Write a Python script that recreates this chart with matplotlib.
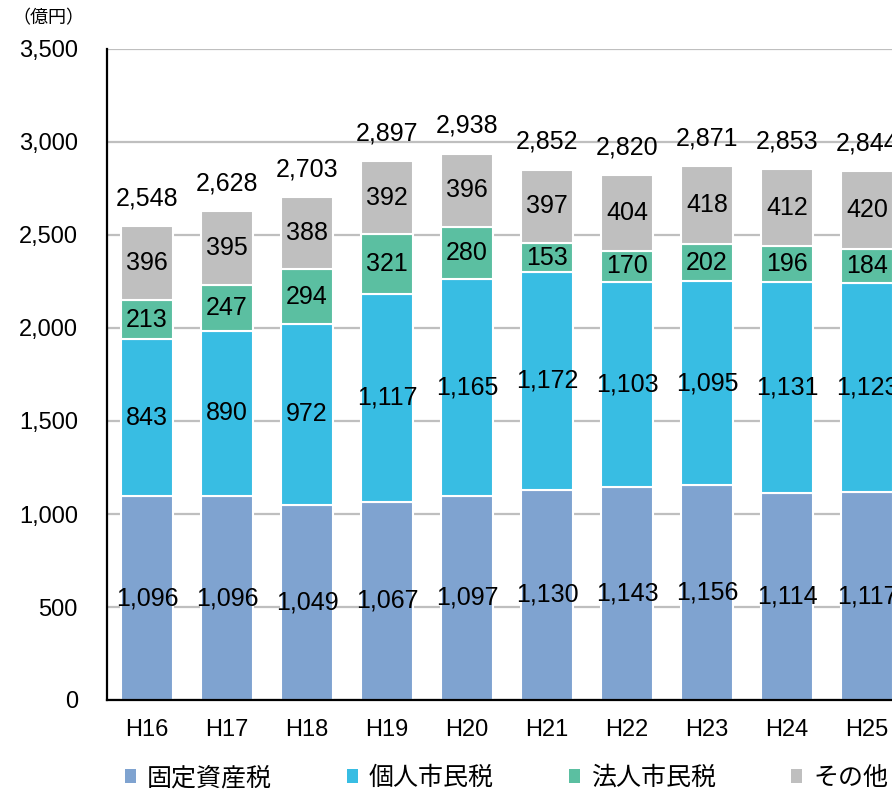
import matplotlib
matplotlib.use("Agg")
import matplotlib.pyplot as plt
import numpy as np

plt.rcParams['font.family'] = ['Liberation Sans', 'Noto Sans CJK JP', 'DejaVu Sans']

years = ['H16', 'H17', 'H18', 'H19', 'H20', 'H21', 'H22', 'H23', 'H24', 'H25']
kotei = [1096, 1096, 1049, 1067, 1097, 1130, 1143, 1156, 1114, 1117]
kojin = [843, 890, 972, 1117, 1165, 1172, 1103, 1095, 1131, 1123]
hojin = [213, 247, 294, 321, 280, 153, 170, 202, 196, 184]
sonota = [396, 395, 388, 392, 396, 397, 404, 418, 412, 420]

names = ['固定資産税', '個人市民税', '法人市民税', 'その他']
colors = ['#7FA3D0', '#38BDE3', '#5BBFA1', '#BFBFBF']
series = [kotei, kojin, hojin, sonota]

fig = plt.figure(figsize=(8.92, 7.92), dpi=100)
# plot area runs a little past the right edge of the figure
ax = fig.add_axes([107/892, 92/792, 800/892, 651/792])

x = np.arange(len(years))
bottom = np.zeros(len(years))
bars = []
for vals, col, name in zip(series, colors, names):
    vals = np.array(vals)
    b = ax.bar(x, vals, width=0.65, bottom=bottom, color=col,
               edgecolor='white', linewidth=1.5, label=name, zorder=3)
    bars.append(b)
    for xi, v, b0 in zip(x, vals, bottom):
        ax.text(xi, b0 + v / 2, f'{v:,}', ha='center', va='center',
                fontsize=18, color='black', zorder=4)
    bottom = bottom + vals

for xi, t in zip(x, bottom):
    ax.text(xi, t + 150, f'{int(t):,}', ha='center', va='center',
            fontsize=18, color='black', zorder=4)

ax.set_xlim(-0.5, len(years) - 0.5)
ax.set_ylim(0, 3500)
ax.set_yticks(np.arange(0, 3501, 500))
ax.set_yticklabels([f'{v:,}' for v in range(0, 3501, 500)])
ax.set_xticks(x)
ax.set_xticklabels(years)
ax.tick_params(axis='y', length=0, pad=21, labelsize=17)
ax.tick_params(axis='x', length=0, pad=14, labelsize=17)
ax.yaxis.grid(True, color='#BFBFBF', linewidth=1.6, zorder=0)
ax.set_axisbelow(True)
for s in ['top', 'right']:
    ax.spines[s].set_visible(False)
for s in ['left', 'bottom']:
    ax.spines[s].set_linewidth(1.6)
    ax.spines[s].set_color('black')
    ax.spines[s].set_zorder(5)

fig.text(12/892, 1 - 18/792, '（億円）', fontsize=13, ha='left', va='center',
         family=['Noto Sans CJK JP', 'DejaVu Sans'])

leg = fig.legend(handles=bars, labels=names, loc='center left',
                 bbox_to_anchor=(125/892, 1 - 778/792), ncol=4, frameon=False,
                 prop={'family': 'Noto Sans CJK JP', 'size': 18},
                 handlelength=0.44, handleheight=0.44, handletextpad=0.44,
                 columnspacing=3.0, borderpad=0, borderaxespad=0)
for h in leg.legend_handles:
    h.set_edgecolor('none')

fig.savefig('out.png', dpi=100)
